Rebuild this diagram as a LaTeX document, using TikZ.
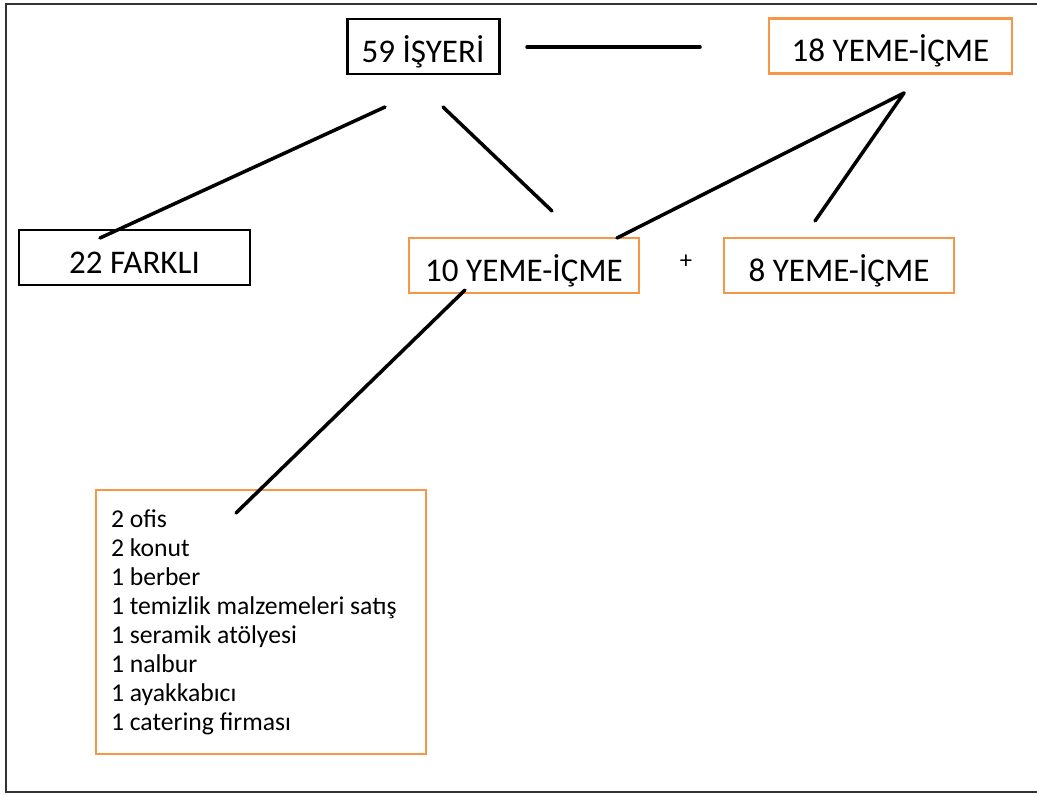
\documentclass[tikz,border=0pt]{standalone}
\usepackage{fontspec}
\setmainfont{Carlito}
\usepackage{xcolor}
\usepackage{tikz}
\usetikzlibrary{positioning,calc}
\definecolor{boxorange}{HTML}{F79646}
\definecolor{framegray}{HTML}{333333}

\begin{document}
\begin{tikzpicture}[font=\fontsize{9.4}{11}\selectfont,
  blackbox/.style={draw, rectangle, line width=0.85pt, minimum height=0.55cm, inner ysep=0pt, text height=2.2ex, text depth=0.3ex},
  orangebox/.style={draw=boxorange, rectangle, line width=0.6pt, minimum height=0.55cm, inner ysep=0pt, text height=2.2ex, text depth=0.3ex},
  link/.style={line width=1pt, line cap=round}]
\useasboundingbox (0,0) rectangle (10.37,-7.94);

% Outer frame
\draw[framegray, line width=0.8pt] (10.37,-0.04) -- (0.06,-0.04) -- (0.06,-7.92) -- (10.37,-7.92);

% Top level
\node[blackbox, minimum width=1.52cm] (isyeri) at (4.23,-0.465) {59 İŞYERİ};
\node[orangebox, minimum width=2.43cm] (yeme18) at (8.905,-0.46) {18 YEME-İÇME\hspace{0.4cm}};

% Second level
\node[blackbox, minimum width=2.31cm] (farkli) at (1.345,-2.575) {22 FARKLI};
\node[orangebox, minimum width=2.30cm] (yeme10) at (5.24,-2.655) {10 YEME-İÇME};
\node[orangebox, minimum width=2.30cm] (yeme8) at (8.39,-2.655) {8 YEME-İÇME};
\node (arti) at (6.86,-2.62) {\fontsize{7}{8}\selectfont +};

% Other shops
\node[draw=boxorange, rectangle, line width=0.6pt, text width=3.0cm, inner xsep=0.15cm, minimum height=2.64cm,
      align=flush left, font=\fontsize{7.3}{8.25}\selectfont] (liste) at (2.61,-6.22)
  {2 ofis\\
   2 konut\\
   1 berber\\
   1 temizlik malzemeleri satış\\
   1 seramik atölyesi\\
   1 nalbur\\
   1 ayakkabıcı\\
   1 catering firması};

% Line ends
\coordinate (isyeriL) at (3.85,-1.07);
\coordinate (isyeriR) at (4.43,-1.07);
\coordinate (farkliT) at (1.00,-2.38);
\coordinate (yeme10T) at (5.52,-2.11);
\coordinate (yeme10B) at (4.65,-2.90);
\coordinate (yeme10R) at (6.17,-2.38);
\coordinate (yeme18B) at (9.04,-0.93);
\coordinate (yeme8T) at (8.15,-2.21);
\coordinate (listeT) at (2.36,-5.13);
\coordinate (hatA) at (5.27,-0.47);
\coordinate (hatB) at (7.00,-0.47);

% Relationships
\draw[link] (isyeriL) -- (farkliT);
\draw[link] (isyeriR) -- (yeme10T);
\draw[link] (hatA) -- (hatB);
\draw[link] (yeme18B) -- (yeme10R);
\draw[link] (yeme18B) -- (yeme8T);
\draw[link] (yeme10B) -- (listeT);

\end{tikzpicture}
\end{document}
